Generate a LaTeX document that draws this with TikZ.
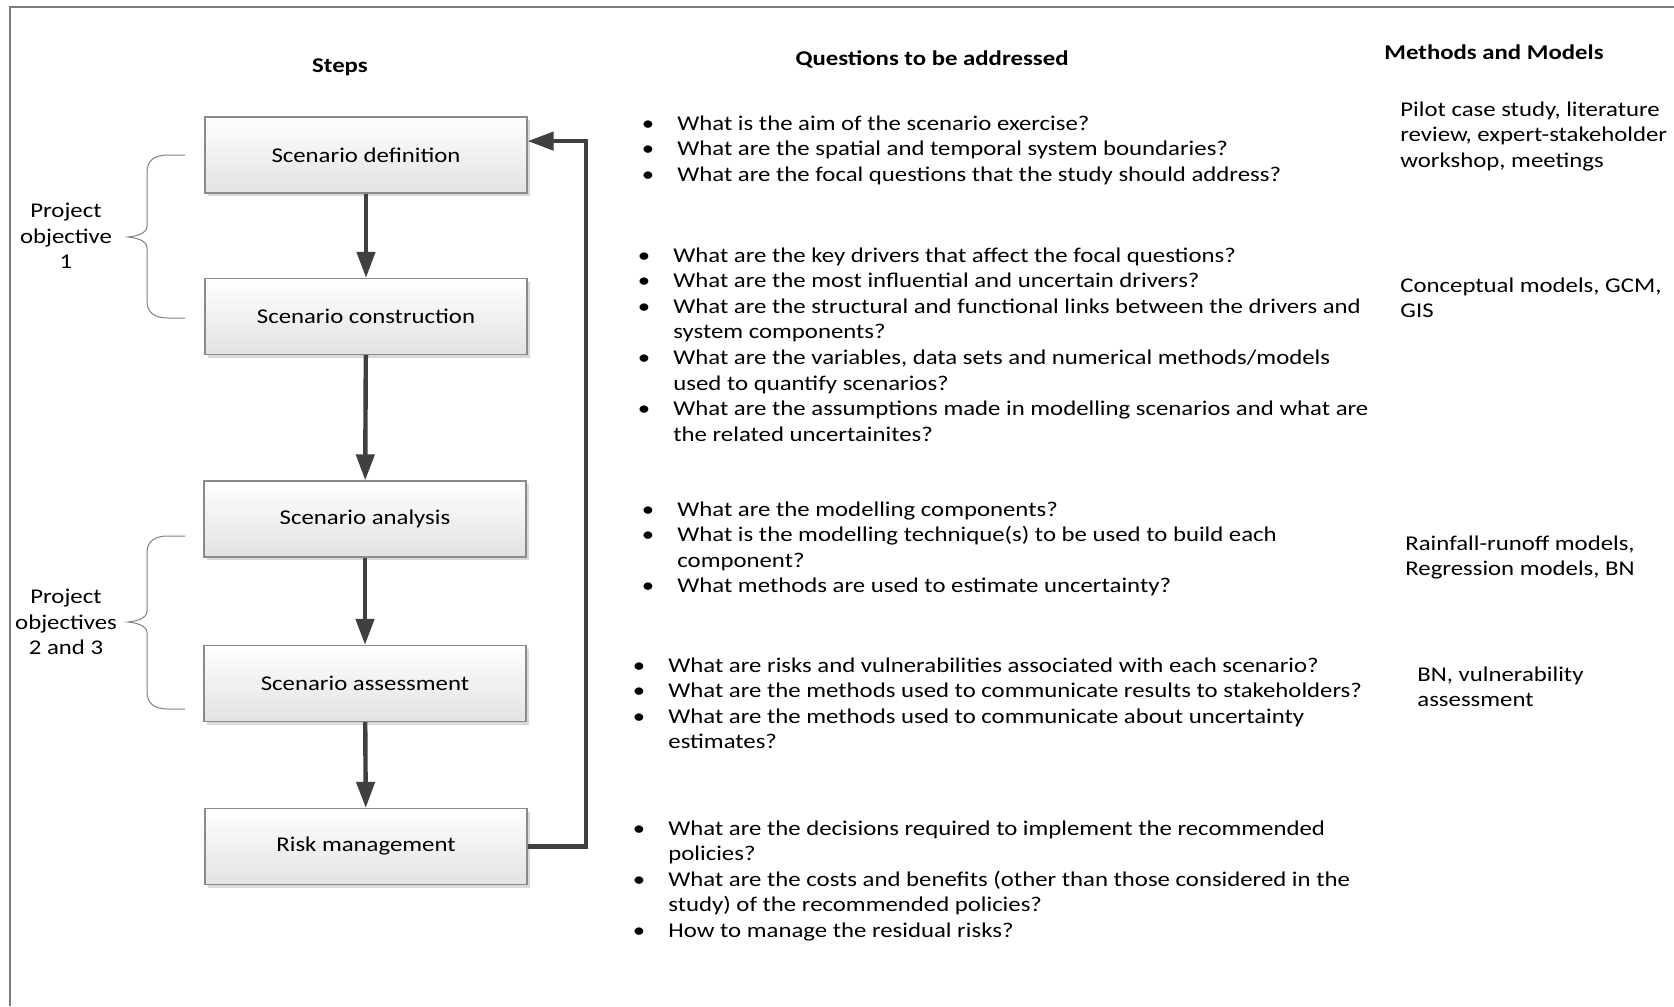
\documentclass[tikz,border=0pt]{standalone}
\usepackage{fontspec}
\setmainfont{Carlito}[FakeStretch=1.18]
\usetikzlibrary{arrows.meta,shadows,calc}

\definecolor{boxline}{HTML}{8A8A8A}
\definecolor{boxfill}{HTML}{E2E2E2}
\definecolor{arrowgray}{HTML}{404040}
\definecolor{bracegray}{HTML}{808080}
\definecolor{framegray}{HTML}{7A7A7A}

\begin{document}
\begin{tikzpicture}[x=0.5pt,y=-0.5pt,
  font=\fontsize{10.5pt}{12.8pt}\selectfont,
  stepbox/.style={draw=boxline, line width=0.6pt, top color=white, bottom color=boxfill,
    minimum width=161pt, minimum height=38pt, inner sep=0pt,
    drop shadow={shadow xshift=1.5pt, shadow yshift=-1.5pt, fill=black, opacity=0.15}},
  flow/.style={draw=arrowgray, line width=2.2pt, -{Triangle[width=9pt,length=13pt]}},
  head/.style={font=\fontsize{10.5pt}{12.8pt}\selectfont\bfseries, anchor=base, inner sep=0pt},
  item/.style={anchor=base west, align=left, inner sep=0pt},
  dot/.style={anchor=base, inner sep=0pt},
  method/.style={anchor=base west, align=left, inner sep=0pt},
  objective/.style={align=center, inner sep=0pt},
  brace/.style={draw=bracegray, line width=0.5pt},
]
\useasboundingbox (0,0) rectangle (1674,1006);
\fill[white] (0,0) rectangle (1674,1006);

% frame edges
\draw[framegray, line width=0.9pt] (10,1006) -- (10,7) -- (1674,7);

% column headings
\node[head] (hsteps) at (340,73) {Steps};
\node[head] (hquest) at (932,66) {Questions to be addressed};
\node[head] (hmeth)  at (1494,60) {Methods and Models};

% process steps
\node[stepbox] (b1) at (366,155)   {Scenario definition};
\node[stepbox] (b2) at (366,316.5) {Scenario construction};
\node[stepbox] (b3) at (365,519)   {Scenario analysis};
\node[stepbox] (b4) at (365,683.5) {Scenario assessment};
\node[stepbox] (b5) at (366,846.5) {Risk management};

\draw[flow] (b1) -- (b2);
\draw[flow] (b2) -- (b3);
\draw[flow] (b3) -- (b4);
\draw[flow] (b4) -- (b5);

% feedback loop
\coordinate (rail) at (586,0);
\coordinate (b1in) at ($(b1.north east)!0.32!(b1.south east)$);
\draw[flow] (b5.east) -- (b5.east -| rail) -- (rail |- b1in) -- (b1in);

% objective braces
\draw[brace] (185,155) -- (168,155) .. controls (155,155) and (147,160) .. (147,172)
  -- (147,226) .. controls (147,233) and (138,236) .. (128,237)
  .. controls (138,238) and (147,241) .. (147,248)
  -- (147,301) .. controls (147,313) and (155,318) .. (168,318) -- (185,318);
\draw[brace] (185,536) -- (168,536) .. controls (155,536) and (147,541) .. (147,553)
  -- (147,611) .. controls (147,618) and (138,621) .. (128,622)
  .. controls (138,623) and (147,626) .. (147,633)
  -- (147,692) .. controls (147,704) and (155,709) .. (168,709) -- (185,709);

\node[objective] (obj1) at (66,236) {Project\\objective\\1};
\node[objective] (obj2) at (66,622) {Project\\objectives\\2 and 3};

% questions: scenario definition (multi-line items sit on their last baseline)
\node[dot] (d11) at (648,130)   {\textbullet};
\node[item] (q11) at (677,130)   {What is the aim of the scenario exercise?};
\node[dot] (d12) at (648,155.6) {\textbullet};
\node[item] (q12) at (677,155.6) {What are the spatial and temporal system boundaries?};
\node[dot] (d13) at (648,181.2) {\textbullet};
\node[item] (q13) at (677,181.2) {What are the focal questions that the study should address?};

% questions: scenario construction
\node[dot] (d21) at (644,262)   {\textbullet};
\node[item] (q21) at (673,262)   {What are the key drivers that affect the focal questions?};
\node[dot] (d22) at (644,287.6) {\textbullet};
\node[item] (q22) at (673,287.6) {What are the most influential and uncertain drivers?};
\node[dot] (d23) at (644,313.2) {\textbullet};
\node[item] (q23) at (673,338.8) {What are the structural and functional links between the drivers and\\system components?};
\node[dot] (d24) at (644,364.4) {\textbullet};
\node[item] (q24) at (673,390) {What are the variables, data sets and numerical methods/models\\used to quantify scenarios?};
\node[dot] (d25) at (644,415.6) {\textbullet};
\node[item] (q25) at (673,441.2) {What are the assumptions made in modelling scenarios and what are\\the related uncertainites?};

% questions: scenario analysis
\node[dot] (d31) at (648,516)   {\textbullet};
\node[item] (q31) at (677,516)   {What are the modelling components?};
\node[dot] (d32) at (648,541.6) {\textbullet};
\node[item] (q32) at (677,567.2) {What is the modelling technique(s) to be used to build each\\component?};
\node[dot] (d33) at (648,592.8) {\textbullet};
\node[item] (q33) at (677,592.8) {What methods are used to estimate uncertainty?};

% questions: scenario assessment
\node[dot] (d41) at (639,672)   {\textbullet};
\node[item] (q41) at (668,672)   {What are risks and vulnerabilities associated with each scenario?};
\node[dot] (d42) at (639,697.6) {\textbullet};
\node[item] (q42) at (668,697.6) {What are the methods used to communicate results to stakeholders?};
\node[dot] (d43) at (639,723.2) {\textbullet};
\node[item] (q43) at (668,748.8) {What are the methods used to communicate about uncertainty\\estimates?};

% questions: risk management
\node[dot] (d51) at (639,835)   {\textbullet};
\node[item] (q51) at (668,860.6) {What are the decisions required to implement the recommended\\policies?};
\node[dot] (d52) at (639,886.2) {\textbullet};
\node[item] (q52) at (668,911.8) {What are the costs and benefits (other than those considered in the\\study) of the recommended policies?};
\node[dot] (d53) at (639,937.4) {\textbullet};
\node[item] (q53) at (668,937.4) {How to manage the residual risks?};

% methods and models
\node[method] (m1) at (1400,167.2) {Pilot case study, literature\\review, expert-stakeholder\\workshop, meetings};
\node[method] (m2) at (1400,317.6) {Conceptual models, GCM,\\GIS};
\node[method] (m3) at (1405,575.6) {Rainfall-runoff models,\\Regression models, BN};
\node[method] (m4) at (1417,706.6) {BN, vulnerability\\assessment};
\end{tikzpicture}
\end{document}
